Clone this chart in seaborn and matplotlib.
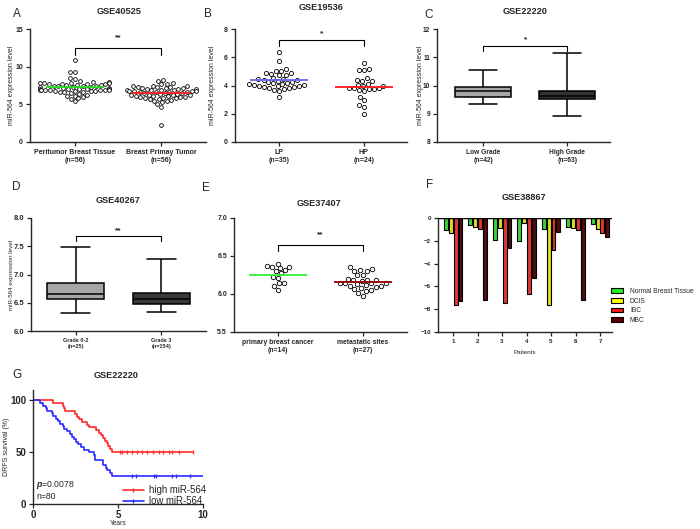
import numpy as np
import pandas as pd
import matplotlib
matplotlib.use("Agg")
import matplotlib.pyplot as plt
from matplotlib.lines import Line2D
from matplotlib.patches import Patch
import seaborn as sns

# ============ Data ============
# A: GSE40525
a_groups = ["Peritumor Breast Tissue\n(n=56)", "Breast Primay Tumor\n(n=56)"]
a_peritumor = [10.85, 9.35, 9.3, 8.55, 8.3, 8.05, 7.95, 7.9, 7.88, 7.85, 7.82, 7.8, 7.76,
               7.72, 7.7, 7.66, 7.62, 7.58, 7.55, 7.5, 7.45, 7.42, 7.38, 7.33, 7.3, 7.25,
               7.2, 7.15, 7.1, 7.06, 7.02, 7.0, 6.98, 6.96, 6.94, 6.92, 6.9, 6.88, 6.86,
               6.84, 6.82, 6.8, 6.76, 6.72, 6.68, 6.64, 6.58, 6.5, 6.42, 6.3, 6.15, 6.05,
               5.95, 5.8, 5.7, 5.4]
a_tumor = [8.2, 8.1, 7.8, 7.72, 7.66, 7.5, 7.42, 7.38, 7.33, 7.3, 7.26, 7.2, 7.16, 7.12,
           7.08, 7.04, 7.0, 6.96, 6.92, 6.88, 6.84, 6.8, 6.77, 6.74, 6.71, 6.68, 6.65,
           6.62, 6.58, 6.54, 6.5, 6.45, 6.4, 6.34, 6.3, 6.26, 6.22, 6.18, 6.14, 6.1,
           6.06, 6.02, 5.98, 5.94, 5.9, 5.85, 5.8, 5.75, 5.7, 5.6, 5.5, 5.4, 5.3, 5.0,
           4.7, 2.3]

# B: GSE19536
b_groups = ["LP\n(n=35)", "HP\n(n=24)"]
b_lp = [6.35, 5.75, 5.2, 5.05, 5.0, 4.92, 4.87, 4.83, 4.77, 4.72, 4.52, 4.47, 4.44, 4.41,
        4.38, 4.34, 4.27, 4.22, 4.18, 4.15, 4.12, 4.09, 4.06, 4.03, 4.0, 3.97, 3.94,
        3.91, 3.88, 3.85, 3.82, 3.78, 3.66, 3.6, 3.2]
b_hp = [5.6, 5.2, 5.1, 5.1, 4.5, 4.4, 4.3, 4.3, 4.1, 4.05, 4.0, 3.95, 3.85, 3.8, 3.8,
        3.75, 3.75, 3.7, 3.6, 3.2, 2.95, 2.6, 2.5, 2.0]

# C: GSE22220 (min, q1, median, q3, max)
c_groups = ["Low Grade\n(n=42)", "High Grade\n(n=63)"]
c_low = [9.36, 9.58, 9.82, 9.96, 10.55]
c_high = [8.92, 9.51, 9.64, 9.79, 11.16]

# D: GSE40267 (min, q1, median, q3, max)
d_groups = ["Grade 0-2\n(n=25)", "Grade 3\n(n=154)"]
d_low = [6.31, 6.56, 6.66, 6.85, 7.48]
d_high = [6.33, 6.47, 6.56, 6.68, 7.27]

# E: GSE37407
e_groups = ["primary breast cancer\n(n=14)", "metastatic sites\n(n=27)"]
e_primary = [6.40, 6.37, 6.36, 6.35, 6.34, 6.31, 6.30, 6.27, 6.22, 6.21, 6.15, 6.14,
             6.10, 6.05]
e_meta = [6.35, 6.33, 6.31, 6.30, 6.30, 6.25, 6.25, 6.20, 6.19, 6.18, 6.18, 6.17, 6.15,
          6.14, 6.14, 6.14, 6.13, 6.12, 6.10, 6.10, 6.09, 6.08, 6.06, 6.05, 6.04, 6.01, 5.98]

# F: GSE38867
f_patients = ["1", "2", "3", "4", "5", "6", "7"]
f_tissues = ["Normal Breast Tissue", "DCIS", "IBC", "MBC"]
f_normal = [-1.05, -0.58, -1.9, -2.03, -0.93, -0.75, -0.55]
f_dcis = [-1.28, -0.8, -0.9, -0.4, -7.6, -0.85, -1.0]
f_ibc = [-7.6, -0.96, -7.45, -6.65, -2.8, -1.07, -1.3]
f_mbc = [-7.3, -7.2, -2.65, -5.26, -1.25, -7.15, -1.7]

# G: GSE22220 survival
g_high_t = [0, 1.15, 1.75, 1.8, 1.9, 2.45, 2.6, 2.7, 2.9, 3.2, 3.3, 3.7, 3.9, 4.0, 4.1,
            4.25, 4.35, 4.4, 4.5, 4.65, 9.4]
g_high_s = [100, 97.4, 94.8, 92.2, 89.6, 87.0, 84.4, 81.8, 79.2, 76.6, 74.0, 71.4, 68.8,
            66.2, 63.6, 61.0, 58.4, 55.8, 53.2, 50.6, 50.6]
g_high_cens = [5.1, 5.25, 5.5, 5.8, 6.1, 6.4, 6.7, 7.05, 7.4, 7.65, 8.0, 8.2, 8.6, 9.4]
g_low_t = [0, 0.4, 0.6, 0.75, 0.85, 1.1, 1.2, 1.35, 1.45, 1.6, 1.75, 1.85, 2.0, 2.15,
           2.3, 2.4, 2.5, 2.65, 2.8, 3.0, 3.3, 3.6, 3.65, 4.1, 4.3, 4.35, 4.5, 4.65, 10.0]
g_low_s = [100, 97.5, 95, 92.5, 90, 87.5, 85, 82.5, 80, 77.5, 75, 72.5, 70, 67.5, 65,
           62.5, 60, 57.5, 55, 52.5, 50, 47.5, 42.5, 37.5, 35, 32.5, 30, 27.5, 27.5]
g_low_cens = [5.85, 6.05, 7.1, 7.25, 8.2, 8.4, 9.25]

# ============ Style ============
sns.set_style("ticks")
plt.rcParams['font.family'] = ['Liberation Sans', 'DejaVu Sans']
plt.rcParams['font.weight'] = 'bold'
plt.rcParams['axes.linewidth'] = 1.0
plt.rcParams['mathtext.fontset'] = 'custom'
plt.rcParams['mathtext.it'] = 'Liberation Sans:italic'
plt.rcParams['mathtext.rm'] = 'Liberation Sans'

W, H = 700, 529
fig = plt.figure(figsize=(7, 5.29), dpi=100)


def px_axes(x0, y0, x1, y1):
    return fig.add_axes([x0 / W, 1 - y1 / H, (x1 - x0) / W, (y1 - y0) / H])


def fig_text(x, y, s, **kw):
    fig.text(x / W, 1 - y / H, s, ha='center', va='center', **kw)


def style_axis(ax, ysize, xsize):
    sns.despine(ax=ax)
    ax.tick_params(direction='out', length=3, width=0.9, pad=2)
    ax.tick_params(axis='y', labelsize=ysize)
    ax.tick_params(axis='x', labelsize=xsize)
    ax.set_xlabel("")
    ax.set_ylabel("")


def long_form(groups, values):
    return pd.DataFrame({
        "group": np.repeat(groups, [len(v) for v in values]),
        "value": np.concatenate(values),
    })


def scatter_panel(ax, groups, values, line_colors, size=3.2):
    df = long_form(groups, values)
    sns.swarmplot(data=df, x="group", y="value", order=groups, color="white",
                  edgecolor="black", linewidth=0.6, size=size, ax=ax)
    for i, (v, c) in enumerate(zip(values, line_colors)):
        ax.hlines(np.mean(v), i - 0.34, i + 0.34, color=c, lw=1.3, zorder=5)


def box_panel(ax, groups, values, colors):
    df = long_form(groups, values)
    sns.boxplot(data=df, x="group", y="value", order=groups, hue="group",
                palette=colors, whis=(0, 100), width=0.67, linecolor="black",
                linewidth=1.1, legend=False, ax=ax)


def bracket(ax, y, drop, label, ly, size=6):
    ax.plot([0, 0, 1, 1], [y - drop, y, y, y - drop], color='black', lw=0.8,
            clip_on=False)
    ax.text(0.5, ly, label, ha='center', va='center', fontsize=size)


# ============ A ============
axA = px_axes(30, 29, 206, 142)
scatter_panel(axA, a_groups, [a_peritumor, a_tumor], ['#22dd22', '#ff1a1a'], size=2.7)
axA.set_ylim(0, 15)
axA.set_yticks([0, 5, 10, 15])
axA.set_xlim(-0.52, 1.52)
bracket(axA, 12.5, 0.95, "**", 13.8)
style_axis(axA, 5, 5)
axA.set_ylabel("miR-564 expression level", fontsize=5, fontweight='normal')
axA.yaxis.set_label_coords(-0.085, 0.5)

# ============ B ============
axB = px_axes(235, 29, 407, 142)
scatter_panel(axB, b_groups, [b_lp, b_hp], ['#6666ee', '#ff1a1a'], size=3.0)
axB.set_ylim(0, 8)
axB.set_yticks([0, 2, 4, 6, 8])
axB.set_xlim(-0.52, 1.51)
bracket(axB, 7.23, 0.43, "*", 7.7)
style_axis(axB, 5, 5)
axB.set_ylabel("miR-564 expression level", fontsize=5, fontweight='normal')
axB.yaxis.set_label_coords(-0.108, 0.5)

# ============ C ============
axC = px_axes(437, 29, 610, 142)
box_panel(axC, c_groups, [c_low, c_high], ['#a6a6a6', '#333333'])
axC.set_ylim(8, 12)
axC.set_yticks([8, 9, 10, 11, 12])
axC.set_xlim(-0.55, 1.51)
bracket(axC, 11.4, 0.18, "*", 11.62)
style_axis(axC, 4.8, 4.8)
axC.set_ylabel("miR-564 expression level", fontsize=5, fontweight='normal')
axC.yaxis.set_label_coords(-0.078, 0.5)

# ============ D ============
axD = px_axes(31, 218, 206, 331)
box_panel(axD, d_groups, [d_low, d_high], ['#a6a6a6', '#3a3a3a'])
axD.set_ylim(6.0, 8.0)
axD.set_yticks([6.0, 6.5, 7.0, 7.5, 8.0])
axD.yaxis.set_major_formatter(matplotlib.ticker.FormatStrFormatter('%.1f'))
axD.set_xlim(-0.52, 1.52)
bracket(axD, 7.68, 0.08, "**", 7.78)
style_axis(axD, 5.5, 4)
axD.set_ylabel("miR-564 expression level", fontsize=4.5, fontweight='normal')
axD.yaxis.set_label_coords(-0.097, 0.5)

# ============ E ============
axE = px_axes(234, 218, 407, 332)
scatter_panel(axE, e_groups, [e_primary, e_meta], ['#33ee33', '#990000'])
axE.set_ylim(5.5, 7.0)
axE.set_yticks([5.5, 6.0, 6.5, 7.0])
axE.set_xlim(-0.52, 1.52)
bracket(axE, 6.65, 0.08, "**", 6.78)
style_axis(axE, 5, 4.9)

# ============ F ============
axF = px_axes(438, 218, 612, 332)
df_f = pd.DataFrame({
    "patient": np.tile(f_patients, 4),
    "tissue": np.repeat(f_tissues, len(f_patients)),
    "value": np.concatenate([f_normal, f_dcis, f_ibc, f_mbc]),
})
f_colors = ['#22ee22', '#ffff00', '#ff1a1a', '#5c0000']
sns.barplot(data=df_f, x="patient", y="value", hue="tissue", hue_order=f_tissues,
            palette=f_colors, gap=0.2, edgecolor="black", linewidth=0.8,
            errorbar=None, legend=False, ax=axF)
axF.axhline(0, color='black', lw=1.0, zorder=5)
axF.set_ylim(-10, 0)
axF.set_yticks([-10, -8, -6, -4, -2, 0])
axF.set_xlim(-0.62, 6.49)
style_axis(axF, 4.5, 4.5)
axF.set_xlabel("Patients", fontsize=4.5)
fig.legend(handles=[Patch(facecolor=c, edgecolor='black', linewidth=0.8, label=t)
                    for c, t in zip(f_colors, f_tissues)],
           loc='upper left', bbox_to_anchor=(611 / W, 1 - 288 / H), frameon=False,
           prop={'size': 4.8, 'weight': 'normal'}, handlelength=1.75, handleheight=0.7,
           labelspacing=0.4, handletextpad=1.1, borderpad=0, borderaxespad=0)

# ============ G ============
axG = px_axes(33, 390, 203, 504)
sns.lineplot(x=g_high_t, y=g_high_s, drawstyle='steps-post', color='#ff2a2a', lw=1.2,
             estimator=None, ax=axG)
sns.lineplot(x=g_low_t, y=g_low_s, drawstyle='steps-post', color='#2a2aff', lw=1.2,
             estimator=None, ax=axG)
sns.scatterplot(x=g_high_cens, y=[g_high_s[-1]] * len(g_high_cens), marker='|', s=12,
                color='#ff2a2a', linewidth=0.9, ax=axG)
sns.scatterplot(x=g_low_cens, y=[g_low_s[-1]] * len(g_low_cens), marker='|', s=12,
                color='#2a2aff', linewidth=0.9, ax=axG)
axG.set_xlim(0, 10)
axG.set_ylim(0, 110)
axG.set_xticks([0, 5, 10])
axG.set_yticks([0, 50, 100])
style_axis(axG, 7, 7)
axG.tick_params(axis='x', pad=1)
axG.set_xlabel("Years", fontsize=4.8, fontweight='normal', labelpad=0.5)
axG.set_ylabel("DRFS survival (%)", fontsize=5, fontweight='normal')
axG.yaxis.set_label_coords(-0.138, 0.5)
axG.text(0.02, 0.15, "$p$=0.0078", transform=axG.transAxes, fontsize=6.2,
         fontweight='normal')
axG.text(0.02, 0.04, "n=80", transform=axG.transAxes, fontsize=6.2, fontweight='normal')
axG.legend(handles=[Line2D([0], [0], color='#ff2a2a', lw=1.2, marker='|', ms=3,
                           label='high miR-564'),
                    Line2D([0], [0], color='#2a2aff', lw=1.2, marker='|', ms=3,
                           label='low miR-564')],
           loc='lower left', bbox_to_anchor=(0.5, -0.06), frameon=False,
           prop={'size': 6.9, 'weight': 'normal'}, handlelength=2.2,
           handletextpad=0.5, labelspacing=0.1, borderpad=0)

# ============ Titles & panel letters ============
for x, y, s in [(119, 12, "GSE40525"), (321, 8, "GSE19536"), (525, 12, "GSE22220"),
                (118, 200, "GSE40267"), (319, 204, "GSE37407"), (524, 198, "GSE38867"),
                (116, 375, "GSE22220")]:
    fig_text(x, y, s, fontsize=6.6, fontweight='bold')

for x, y, s in [(17, 14, "A"), (208, 14, "B"), (429, 15, "C"), (16, 187, "D"),
                (206, 188, "E"), (430, 185, "F"), (17, 375, "G")]:
    fig_text(x, y, s, fontsize=8.5, fontweight='normal')

fig.savefig("out.png", dpi=100)
